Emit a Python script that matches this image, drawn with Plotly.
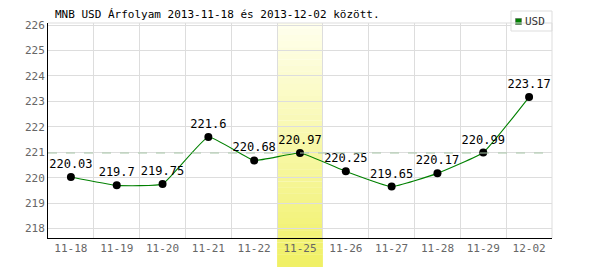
import plotly.graph_objects as go

categories = ["11-18", "11-19", "11-20", "11-21", "11-22", "11-25", "11-26", "11-27", "11-28", "11-29", "12-02"]
usd_values = [220.03, 219.7, 219.75, 221.6, 220.68, 220.97, 220.25, 219.65, 220.17, 220.99, 223.17]
label_texts = ["220.03", "219.7", "219.75", "221.6", "220.68", "220.97", "220.25", "219.65", "220.17", "220.99", "223.17"]
y_ticks = [218, 219, 220, 221, 222, 223, 224, 225, 226]
highlight_index = 5
reference_value = 220.97
title_text = "MNB USD Árfolyam 2013-11-18 és 2013-12-02 között."
series_name = "USD"

MONO = "DejaVu Sans Mono"
xs = list(range(len(categories)))

fig = go.Figure()

# gradient highlight band
n_strips = 40
top_c = (255, 255, 238)
bot_c = (240, 240, 100)
y_top, y_bot = 1.0, -0.135
shapes = []
for i in range(n_strips):
    t = (i + 0.5) / n_strips
    c = tuple(int(round(top_c[k] + (bot_c[k] - top_c[k]) * t)) for k in range(3))
    y0 = y_top + (y_bot - y_top) * i / n_strips
    y1 = y_top + (y_bot - y_top) * (i + 1) / n_strips
    shapes.append(dict(type="rect", xref="x", yref="paper",
                       x0=highlight_index - 0.5, x1=highlight_index + 0.5,
                       y0=y1, y1=y0 + 0.001 if i else y0,
                       fillcolor="rgb(%d,%d,%d)" % c, line=dict(width=0),
                       layer="below"))

# reference dashed line
shapes.append(dict(type="line", xref="paper", yref="y", x0=0, x1=1,
                   y0=reference_value, y1=reference_value,
                   line=dict(color="#a8c8a8", width=1, dash="dash"), layer="above"))

# legend box
shapes.append(dict(type="rect", xref="paper", yref="paper",
                   x0=(511 - 48) / 504, x1=(552 - 48) / 504,
                   y0=(238 - 31) / 215, y1=(238 - 11) / 215,
                   line=dict(color="#dddddd", width=1), fillcolor="white"))
shapes.append(dict(type="rect", xref="paper", yref="paper",
                   x0=(515.5 - 48) / 504, x1=(521.5 - 48) / 504,
                   y0=(238 - 24.5) / 215, y1=(238 - 18.5) / 215,
                   line=dict(color="#555555", width=0.5), fillcolor="#008000"))

fig.add_trace(go.Scatter(
    x=xs, y=usd_values, mode="lines+markers+text",
    text=label_texts, textposition="top center",
    textfont=dict(family=MONO, size=12, color="black"),
    line=dict(color="#008000", width=1.1, shape="spline", smoothing=0.35),
    marker=dict(color="black", size=8),
    showlegend=False, cliponaxis=False,
))

annotations = [
    dict(text=title_text, xref="paper", yref="paper", x=(53 - 48) / 504, y=(238 - 15) / 215,
         xanchor="left", yanchor="middle", showarrow=False,
         font=dict(family=MONO, size=11, color="black")),
    dict(text=series_name, xref="paper", yref="paper", x=(523 - 48) / 504, y=(238 - 21.5) / 215,
         xanchor="left", yanchor="middle", showarrow=False,
         font=dict(family=MONO, size=11, color="#333333")),
]

fig.update_layout(
    width=600, height=270,
    margin=dict(l=48, r=48, t=23, b=32),
    paper_bgcolor="white", plot_bgcolor="white",
    shapes=shapes, annotations=annotations,
    xaxis=dict(range=[-0.5, len(categories) - 0.5], tickvals=xs, ticktext=categories,
               showgrid=False, zeroline=False, showline=True, linecolor="black", linewidth=1,
               ticks="", tickfont=dict(family=MONO, size=11, color="#666666"),
               minor=dict(tick0=0.5, dtick=1, showgrid=True, gridcolor="#dddddd", gridwidth=1),
               mirror=False, fixedrange=True),
    yaxis=dict(range=[217.63, 226.08], tickvals=y_ticks,
               showgrid=True, gridcolor="#dddddd", gridwidth=1, zeroline=False,
               showline=True, linecolor="black", linewidth=1, ticks="",
               tickfont=dict(family=MONO, size=11, color="#666666"), fixedrange=True),
)
# top and right light border
fig.add_shape(type="line", xref="paper", yref="paper", x0=0, x1=1, y0=1, y1=1,
              line=dict(color="#dddddd", width=1))
fig.add_shape(type="line", xref="paper", yref="paper", x0=1, x1=1, y0=0, y1=1,
              line=dict(color="#dddddd", width=1))

fig.write_html("out.html")
